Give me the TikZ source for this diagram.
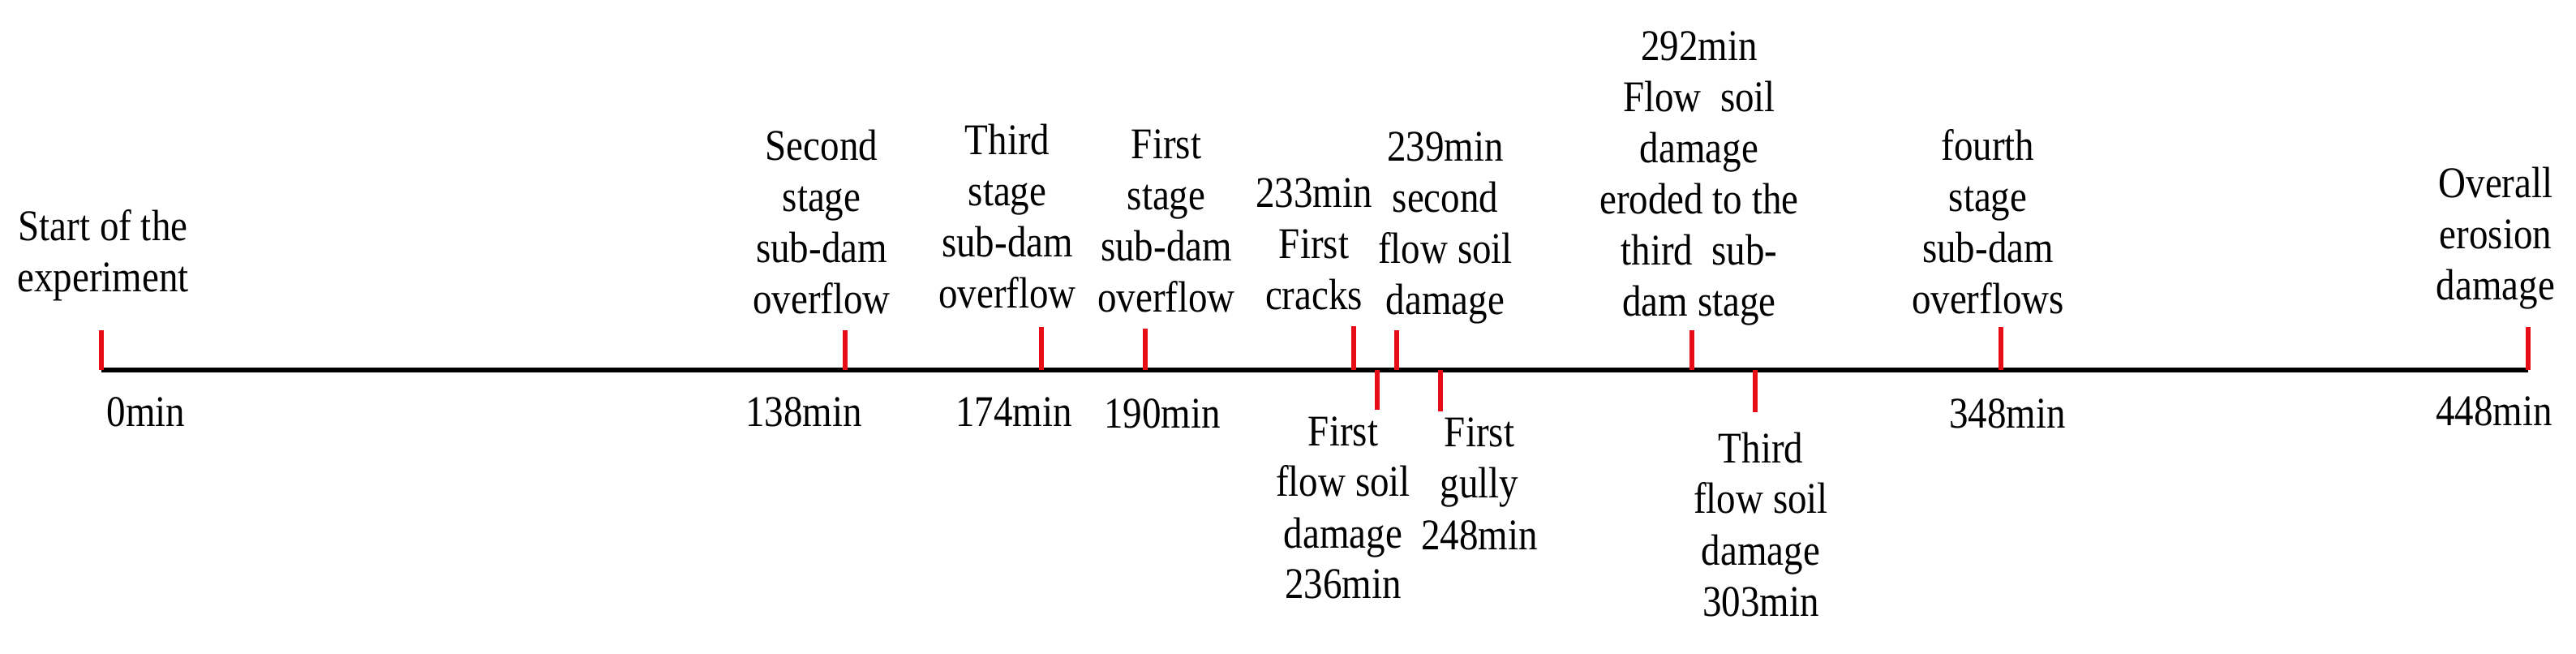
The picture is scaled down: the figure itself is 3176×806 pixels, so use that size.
\documentclass[tikz,border=0pt]{standalone}
\usepackage{fontspec}
\setmainfont{Liberation Serif}[FakeStretch=0.87]
\definecolor{tickred}{RGB}{232,12,22}
\begin{document}
\begin{tikzpicture}[x=0.5pt,y=-0.5pt,
  lbl/.style={align=center,inner sep=0pt,anchor=base,font=\fontsize{27pt}{31.5pt}\selectfont},
  axisline/.style={line width=3.2pt,black},
  tickline/.style={line width=2.7pt,tickred}]
\useasboundingbox (0,0) rectangle (3176,806);
% axis
\coordinate (a0) at (125,456);
\coordinate (a448) at (3117,456);
\draw[axisline] (a0) -- (a448);
% upper ticks
\foreach \n/\x/\t in {0/125/407,138/1042/407,174/1284/403,190/1412/405,233/1669/402,239/1722/407,292/2086/407,348/2467/403,448/3117/403}{
  \coordinate (b\n) at (\x,456);
  \coordinate (e\n) at (\x,\t);
  \draw[tickline] (b\n) -- (e\n);
}
% lower ticks
\foreach \n/\x/\t in {236/1698/505,248/1776/507,303/2164/508}{
  \coordinate (b\n) at (\x,456);
  \coordinate (e\n) at (\x,\t);
  \draw[tickline] (b\n) -- (e\n);
}
% upper labels (anchor = baseline of last line)
\node[lbl] (lstart) at (127,360) {Start of the\\experiment};
\node[lbl] (l138) at (1013,387) {Second\\stage\\sub-dam\\overflow};
\node[lbl] (l174) at (1242,380) {Third\\stage\\sub-dam\\overflow};
\node[lbl] (l190) at (1438,385) {First\\stage\\sub-dam\\overflow};
\node[lbl] (l233) at (1620,382) {233min\\First\\cracks};
\node[lbl] (l239) at (1782,388) {239min\\second\\flow soil\\damage};
\node[lbl] (l292) at (2095,390) {292min\\Flow\ \ soil\\damage\\eroded to the\\third\ \ sub-\\dam stage};
\node[lbl] (l348) at (2451,387) {fourth\\stage\\sub-dam\\overflows};
\node[lbl] (l448) at (3077,370) {Overall\\erosion\\damage};
% time labels
\node[lbl] (m0) at (180,526) {0min};
\node[lbl] (m138) at (991,526) {138min};
\node[lbl] (m174) at (1250,526) {174min};
\node[lbl] (m190) at (1433,528) {190min};
\node[lbl] (m348) at (2475,528) {348min};
\node[lbl] (m448) at (3075,525) {448min};
% lower labels
\node[lbl] (l236) at (1656,738) {First\\flow soil\\damage\\236min};
\node[lbl] (l248) at (1824,677) {First\\gully\\248min};
\node[lbl] (l303) at (2171,759) {Third\\flow soil\\damage\\303min};
\end{tikzpicture}
\end{document}
